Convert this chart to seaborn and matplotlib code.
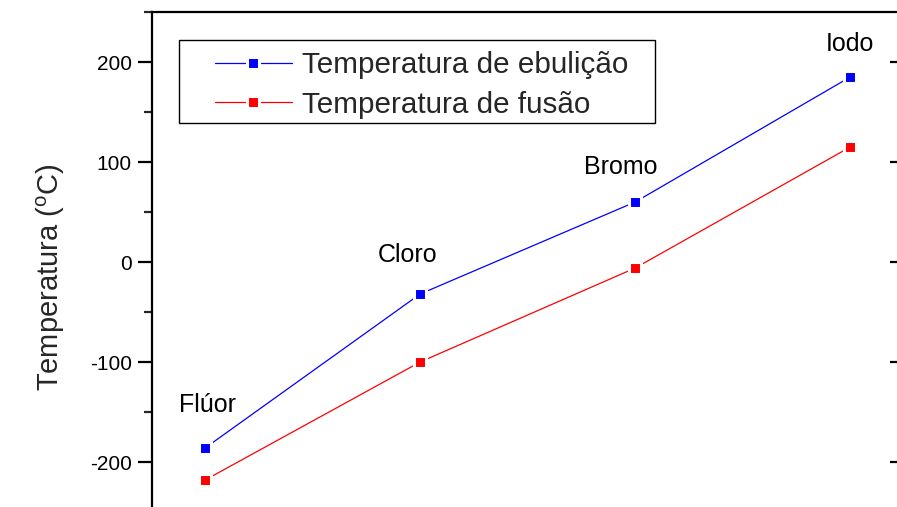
import matplotlib
matplotlib.use("Agg")
import matplotlib.pyplot as plt
from matplotlib.ticker import MultipleLocator
from matplotlib.patches import Rectangle
from matplotlib.lines import TICKLEFT
import seaborn as sns
import pandas as pd

# Halogen boiling / melting points (°C)
elementos = ["Flúor", "Cloro", "Bromo", "Iodo"]
posicao = [1, 2, 3, 4]
ebulicao = [-186, -32, 60, 185]
fusao = [-218, -100, -6, 115]
serie_ebulicao = "Temperatura de ebulição"
serie_fusao = "Temperatura de fusão"
yticks = [-200, -100, 0, 100, 200]

sns.set_theme(style="white")
plt.rcParams["font.family"] = ["Liberation Sans", "DejaVu Sans"]
plt.rcParams["mathtext.fontset"] = "custom"
plt.rcParams["mathtext.rm"] = "Liberation Sans"

W, H = 897, 507
fig = plt.figure(figsize=(W / 100, H / 100), dpi=100)
# axes frame in pixels: left spine 152, right spine ~904, top 12, bottom ~512
ax = fig.add_axes([152 / W, (H - 512) / H, 752 / W, 500 / H])


def px(x, y):
    """pixel position (from top-left of figure) -> axes fraction"""
    return (x - 152) / 752, (512 - y) / 500


df_eb = pd.DataFrame({"x": posicao, "t": ebulicao})
df_fu = pd.DataFrame({"x": posicao, "t": fusao})

style = dict(marker="s", markersize=9, markeredgecolor="white",
             markeredgewidth=2.2, linewidth=0.9)
sns.lineplot(data=df_eb, x="x", y="t", color="#0000ff", label=serie_ebulicao,
             ax=ax, **style)
sns.lineplot(data=df_fu, x="x", y="t", color="#ff0000", label=serie_fusao,
             ax=ax, **style)
for ln in ax.get_lines():
    ln.set_markerfacecolor(ln.get_color())

ax.set_xlim(0.753, 4.25)
ax.set_ylim(-250, 250)

# element names above the boiling points
label_offsets = [(0.01, 43), (-0.06, 39), (-0.065, 35), (0.0, 33)]
for nome, x, y, (dx, dy) in zip(elementos, posicao, ebulicao, label_offsets):
    ax.text(x + dx, y + dy, nome, ha="center", va="center", fontsize=18,
            color="black")

ax.set_xlabel("")
ax.set_ylabel(r"Temperatura ($\mathregular{^o}$C)", fontsize=21)
ax.yaxis.set_label_coords(*px(67, 277))
ax.set_yticks(yticks)
ax.set_yticklabels([str(v) for v in yticks])
ax.yaxis.set_minor_locator(MultipleLocator(50))

for s in ax.spines.values():
    s.set_visible(True)
    s.set_color("black")
    s.set_linewidth(1.6)

ax.tick_params(axis="y", which="major", left=True, right=True, direction="out",
               length=10, width=1.6, labelsize=15, colors="black", pad=4.5)
ax.tick_params(axis="y", which="minor", left=True, right=False, direction="out",
               length=6, width=1.6)
# right side ticks point inward
for t in ax.yaxis.get_major_ticks():
    t.tick2line.set_marker(TICKLEFT)

ax.xaxis.set_major_locator(MultipleLocator(0.25))
ax.tick_params(axis="x", which="major", bottom=False, top=True, labelbottom=False,
               direction="out", length=1.0, width=0.6, colors="#555555")

# legend box
x0, y0 = px(179, 123)
x1, y1 = px(655, 40)
ax.add_patch(Rectangle((x0, y0), x1 - x0, y1 - y0, transform=ax.transAxes,
                       fill=True, facecolor="white", edgecolor="black",
                       linewidth=1.0, zorder=4, clip_on=False))

lx, ly = px(215, 51)
leg = ax.legend(loc="upper left", bbox_to_anchor=(lx, ly), borderaxespad=0,
                borderpad=0, fontsize=21.3, frameon=False, handlelength=2.6,
                handletextpad=0.35, labelspacing=0.4)
leg.set_zorder(5)

fig.savefig("out.png", dpi=100)
